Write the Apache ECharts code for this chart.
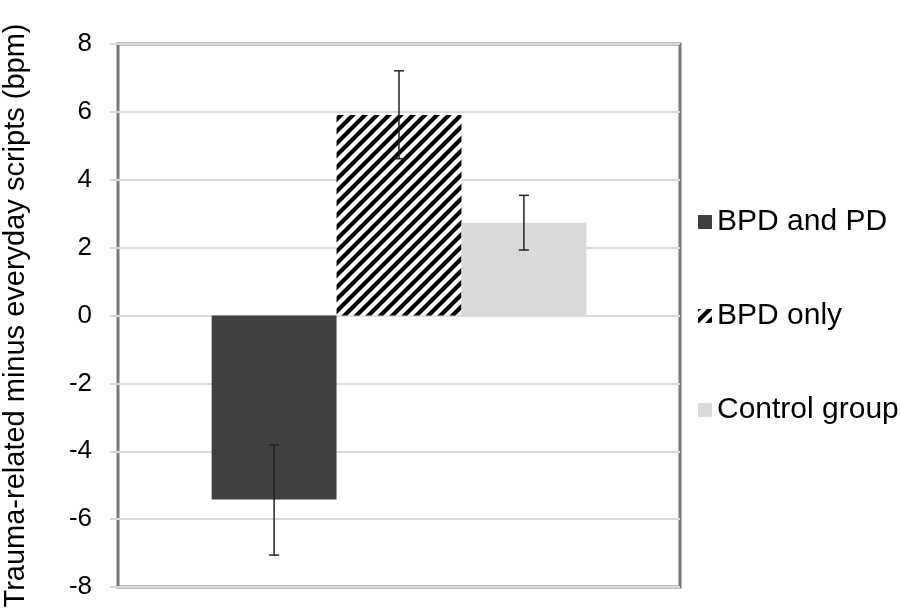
<!DOCTYPE html>
<html>
<head>
<meta charset="utf-8">
<script src="https://cdn.jsdelivr.net/npm/echarts@6/dist/echarts.min.js"></script>
<style>html,body{margin:0;padding:0;background:#fff}#c{width:901px;height:609px}</style>
</head>
<body>
<div id="c"></div>
<script>
var categories = [''];
var seriesNames = ['BPD and PD', 'BPD only', 'Control group'];
var means = [-5.42, 5.91, 2.73];
var errLow = [-7.06, 4.62, 1.93];
var errHigh = [-3.81, 7.21, 3.54];
var yTicks = [-8, -6, -4, -2, 0, 2, 4, 6, 8];

function hatch() {
  var s = 12;
  var cv = document.createElement('canvas');
  cv.width = s; cv.height = s;
  var ctx = cv.getContext('2d');
  ctx.fillStyle = '#ffffff';
  ctx.fillRect(0, 0, s, s);
  ctx.strokeStyle = '#000000';
  ctx.lineWidth = 4.2;
  ctx.beginPath();
  ctx.moveTo(-s, s); ctx.lineTo(s, -s);
  ctx.moveTo(0, 2 * s); ctx.lineTo(2 * s, 0);
  ctx.moveTo(-s, 2 * s); ctx.lineTo(2 * s, -s);
  ctx.stroke();
  return cv;
}

var FONT = 'Liberation Sans, Arial, sans-serif';
var colors = ['#404040', {image: hatch(), repeat: 'repeat'}, '#d9d9d9'];
var catGap = 1 / 3;

var series = seriesNames.map(function (n, i) {
  return {
    name: n, type: 'bar', data: [means[i]],
    barGap: '0%', barCategoryGap: '33.33%',
    itemStyle: {color: colors[i]},
    z: 2
  };
});

series.push({
  type: 'custom',
  name: 'err',
  data: seriesNames.map(function (n, i) { return [0, errLow[i], errHigh[i], i]; }),
  z: 5,
  renderItem: function (params, api) {
    var idx = api.value(3);
    var lo = api.coord([api.value(0), api.value(1)]);
    var hi = api.coord([api.value(0), api.value(2)]);
    var catW = api.size([1, 0])[0];
    var bw = catW * (1 - catGap) / seriesNames.length;
    var x = lo[0] + (idx - (seriesNames.length - 1) / 2) * bw;
    var cap = 5;
    var st = {stroke: '#222', lineWidth: 1.5};
    return {type: 'group', children: [
      {type: 'line', shape: {x1: x, y1: lo[1], x2: x, y2: hi[1]}, style: st},
      {type: 'line', shape: {x1: x - cap, y1: lo[1], x2: x + cap, y2: lo[1]}, style: st},
      {type: 'line', shape: {x1: x - cap, y1: hi[1], x2: x + cap, y2: hi[1]}, style: st}
    ]};
  }
});

var chart = echarts.init(document.getElementById('c'), null, {renderer: 'canvas'});
chart.setOption({
  animation: false,
  backgroundColor: '#ffffff',
  textStyle: {fontFamily: FONT},
  grid: {left: 118, right: 221, top: 44, bottom: 22, outerBoundsMode: 'none', containLabel: false, show: true, borderColor: '#777777', borderWidth: 3, backgroundColor: 'transparent'},
  legend: {
    orient: 'vertical', left: 693, top: 202,
    itemWidth: 14, itemHeight: 14, itemGap: 64,
    icon: 'rect',
    data: seriesNames,
    textStyle: {fontSize: 30, color: '#000', fontFamily: FONT}
  },
  xAxis: {
    type: 'category', data: categories,
    axisLine: {show: false}, axisTick: {show: false}, axisLabel: {show: false}
  },
  yAxis: {
    type: 'value', min: -8, max: 8, interval: 2,
    name: 'Trauma-related minus everyday scripts (bpm)',
    nameLocation: 'middle', nameGap: 88, nameRotate: 90,
    nameTextStyle: {fontSize: 29, color: '#000', fontFamily: FONT},
    axisLine: {show: false},
    axisTick: {show: true, length: 8, lineStyle: {color: '#d9d9d9', width: 2}},
    axisLabel: {fontSize: 26, color: '#000', margin: 26, formatter: function (v) { return yTicks.indexOf(v) >= 0 ? String(v) : ''; }},
    splitLine: {show: true, lineStyle: {color: '#d9d9d9', width: 2}}
  },
  series: series
});
</script>
</body>
</html>
